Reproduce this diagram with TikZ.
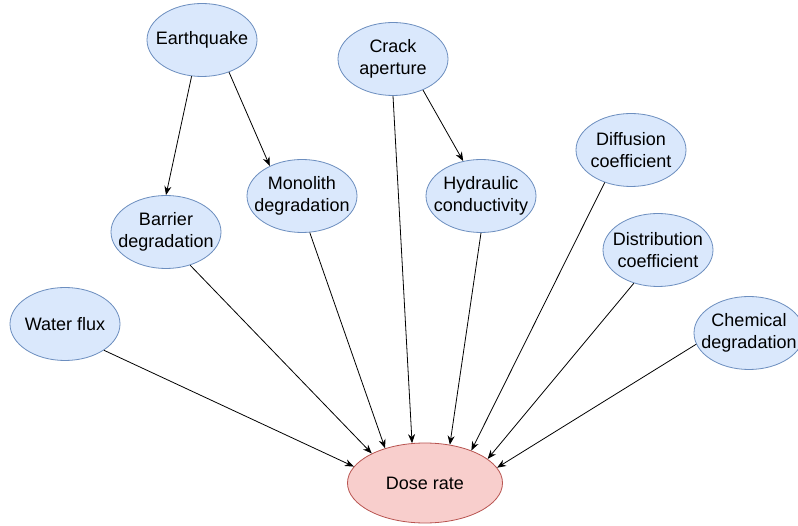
\documentclass[tikz,border=0pt]{standalone}
\usepackage{fontspec}
\setmainfont{Liberation Sans}
\usetikzlibrary{shapes.geometric,arrows.meta}
\definecolor{causefill}{HTML}{DAE8FC}
\definecolor{causeline}{HTML}{6C8EBF}
\definecolor{dosefill}{HTML}{F8CECC}
\definecolor{doseline}{HTML}{B85450}
\begin{document}
\begin{tikzpicture}
[x=1pt,y=-1pt,
every node/.style={draw=causeline,fill=causefill,ellipse,line width=.8pt,minimum width=110pt,minimum height=73pt,inner xsep=-25pt,inner ysep=-10pt,align=center,font=\fontsize{18}{22}\selectfont},
dose/.style={draw=doseline,fill=dosefill,minimum width=155pt,minimum height=80pt},
link/.style={-{Stealth[length=9pt,width=7pt]},line width=.8pt}]
\useasboundingbox (0,0) rectangle (798,526);
\fill[white] (0,0) rectangle (798,526);
% causes
\node (quake) at (202,40) {Earthquake};
\node (crack) at (393,59) {Crack\\aperture};
\node (monolith) at (302,196) {Monolith\\degradation};
\node (barrier) at (166,232) {Barrier\\degradation};
\node (hydraulic) at (481,196) {Hydraulic\\conductivity};
\node (diffusion) at (631,150) {Diffusion\\coefficient};
\node (distribution) at (658,250) {Distribution\\coefficient};
\node (chemical) at (749,333) {Chemical\\degradation};
\node (water) at (65,324) {Water flux};
% effect
\node[dose] (dose) at (425,483) {Dose rate};
% links
\draw[link] (quake.254) -- (barrier.north);
\draw[link] (quake.310) -- (monolith.137);
\draw[link] (crack.314) -- (hydraulic.117);
\draw[link] (crack.south) -- (dose.108);
\draw[link] (hydraulic.south) -- (dose.57);
\draw[link] (diffusion.231) -- (dose.35);
\draw[link] (distribution.234) -- (dose.21);
\draw[link] (chemical.192) -- (dose.12);
\draw[link] (water.326) -- (dose.167);
\draw[link] (barrier.306) -- (dose.151);
\draw[link] (monolith.282) -- (dose.139);
\end{tikzpicture}
\end{document}
